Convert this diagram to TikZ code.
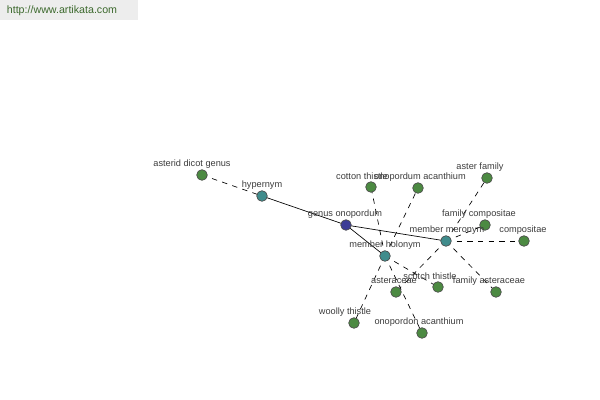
\documentclass[tikz,border=0pt]{standalone}
\usepackage{fontspec}
\setmainfont{Liberation Sans}
\definecolor{leafgreen}{RGB}{76,138,66}
\definecolor{linkteal}{RGB}{64,140,140}
\definecolor{rootblue}{RGB}{60,60,150}
\definecolor{labelgray}{RGB}{60,60,60}
\definecolor{markgreen}{RGB}{60,105,45}
\tikzset{
  word/.style={circle, draw=black!70, line width=0.5pt, minimum size=8pt, inner sep=0pt},
  leaf/.style={word, fill=leafgreen},
  rel/.style={word, fill=linkteal},
  root/.style={word, fill=rootblue},
  lbl/.style={text=labelgray, font=\fontsize{6.9}{8}\selectfont, inner sep=0pt},
  link/.style={black, line width=0.5pt},
  weak/.style={black, line width=0.5pt, dash pattern=on 4pt off 4pt}
}
\begin{document}
\begin{tikzpicture}[x=0.75pt, y=-0.75pt]
        \useasboundingbox (0,0) rectangle (600,400);
        \fill[black!7] (0,0) rectangle (138,20);
        \node[text=markgreen, font=\fontsize{8}{9}\selectfont, inner sep=0pt] (site) at (62,11) {http://www.artikata.com};

        % edges first, nodes on top
        \coordinate (c1) at (202,175);
        \node (n-asterid) at (202,175) {};
        \node (n-hyper) at (262,196) {};
        \node (n-genus) at (346,225) {};
        \node (n-holo) at (385,256) {};
        \node (n-mero) at (446,241) {};
        \node (n-cotton) at (371,187) {};
        \node (n-onoacan) at (418,188) {};
        \node (n-aster) at (487,178) {};
        \node (n-famcomp) at (485,225) {};
        \node (n-comp) at (524,241) {};
        \node (n-asteraceae) at (396,292) {};
        \node (n-scotch) at (438,287) {};
        \node (n-famast) at (496,292) {};
        \node (n-woolly) at (354,323) {};
        \node (n-onodon) at (422,333) {};

        \draw[weak] (n-asterid.center) -- (n-hyper.center);
        \draw[link] (n-hyper.center) -- (n-genus.center);
        \draw[link] (n-genus.center) -- (n-mero.center);
        \draw[link] (n-genus.center) -- (n-holo.center);
        \foreach \t in {n-cotton, n-onoacan, n-scotch, n-woolly, n-onodon}
          \draw[weak] (n-holo.center) -- (\t.center);
        \foreach \t in {n-aster, n-famcomp, n-comp, n-famast, n-asteraceae}
          \draw[weak] (n-mero.center) -- (\t.center);

        \node[leaf] at (n-asterid) {};
        \node[rel] at (n-hyper) {};
        \node[root] at (n-genus) {};
        \node[rel] at (n-holo) {};
        \node[rel] at (n-mero) {};
        \foreach \t in {n-cotton, n-onoacan, n-aster, n-famcomp, n-comp, n-asteraceae, n-scotch, n-famast, n-woolly, n-onodon}
          \node[leaf] at (\t) {};

        \node[lbl] (l-asterid) at (192,164) {asterid dicot genus};
        \node[lbl] (l-hyper) at (262,185) {hypernym};
        \node[lbl] (l-genus) at (345,214) {genus onopordum};
        \node[lbl] (l-holo) at (385,245) {member holonym};
        \node[lbl] (l-mero) at (447,230) {member meronym};
        \node[lbl] (l-cotton) at (362,176) {cotton thistle};
        \node[lbl] (l-onoacan) at (420,177) {onopordum acanthium};
        \node[lbl] (l-aster) at (480,167) {aster family};
        \node[lbl] (l-famcomp) at (479,214) {family compositae};
        \node[lbl] (l-comp) at (523,230) {compositae};
        \node[lbl] (l-asteraceae) at (394,281) {asteraceae};
        \node[lbl] (l-scotch) at (430,276) {scotch thistle};
        \node[lbl] (l-famast) at (489,281) {family asteraceae};
        \node[lbl] (l-woolly) at (345,312) {woolly thistle};
        \node[lbl] (l-onodon) at (419,322) {onopordon acanthium};
      \end{tikzpicture}
\end{document}
